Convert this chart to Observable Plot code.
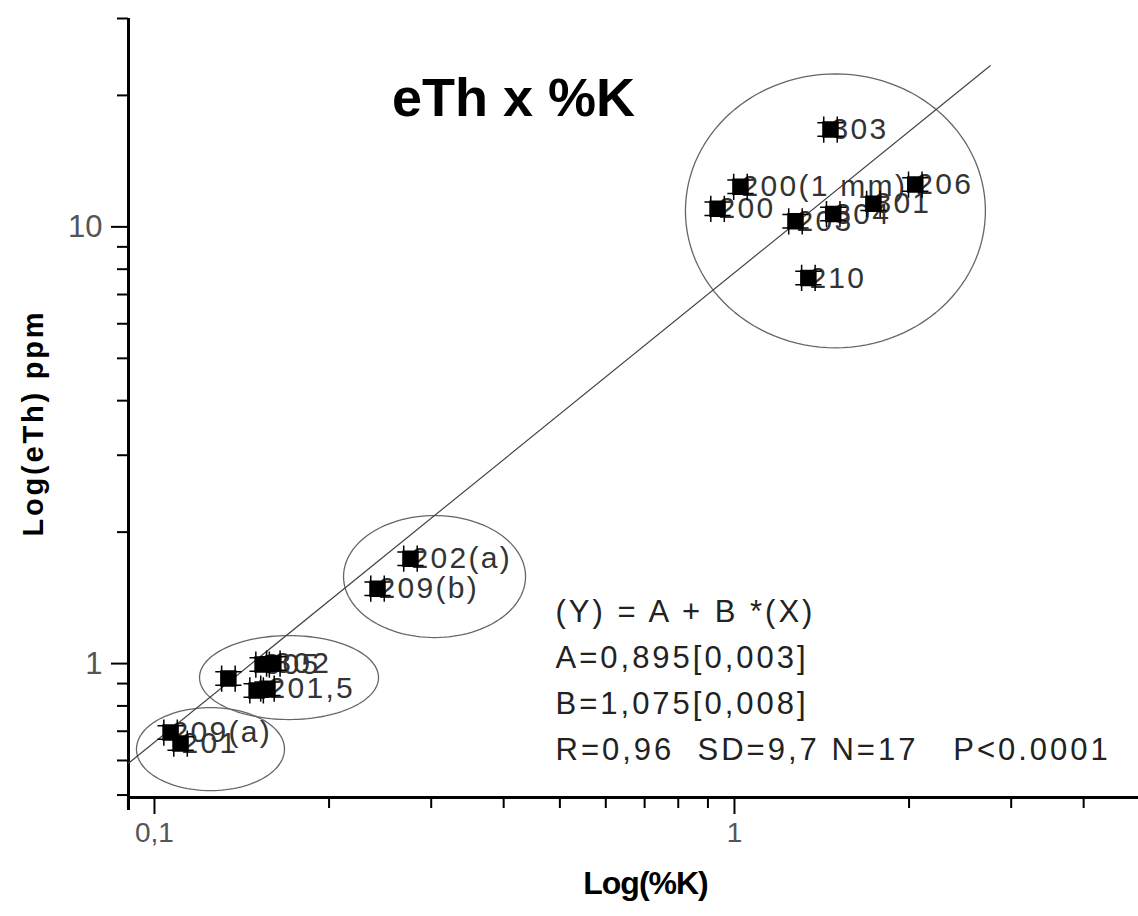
<!DOCTYPE html>
<html><head><meta charset="utf-8">
<script src="https://cdn.jsdelivr.net/npm/d3@7"></script>
<script src="https://cdn.jsdelivr.net/npm/@observablehq/plot@0.6"></script>
<style>
body{margin:0;background:#fff}
svg{font-family:"Liberation Sans",Arial,sans-serif}
.lbl text{letter-spacing:2.3px}
.eq text{letter-spacing:3px}
.ylab text{letter-spacing:2.8px}
.xlab text{letter-spacing:-1px}
g[aria-label="x-axis tick label"] text{font-size:28px;fill:#555}
g[aria-label="y-axis tick label"] text{font-size:31px;fill:#555}
</style></head><body><div id="chart"></div>
<script>
// ---- data ----
const sampleLabels = ["303","200(1 mm)","206","200","203","304","301","210","202(a)","209(b)","","305","302","","201,5","209(a)","201"];
const potassium = [1.464,1.024,2.05,0.935,1.274,1.48,1.736,1.341,0.2763,0.2424,0.1341,0.1536,0.1603,0.150,0.1566,0.1066,0.1109];
const thorium = [16.7,12.35,12.5,11.0,10.3,10.7,11.29,7.64,1.739,1.484,0.924,0.995,1.0,0.868,0.876,0.695,0.656];

// group ellipses (centre K, centre eTh, half-widths in decades)
const ellipseK = [1.493, 0.304, 0.1706, 0.1249];
const ellipseTh = [10.88, 1.582, 0.929, 0.637];
const ellipseRxDec = [0.2586, 0.1569, 0.1543, 0.1276];
const ellipseRyDec = [0.3135, 0.1396, 0.0961, 0.095];

// fit: log(Y) = A + B log(X)
const fitA = 0.895, fitB = 1.075;
const fitRange = [0.0902, 2.76];
const eqLines = ["(Y) = A + B *(X)", "A=0,895[0,003]", "B=1,075[0,008]", "R=0,96  SD=9,7 N=17   P<0.0001"];

const xMajor = [0.1, 1];
const xMinor = [0.09,0.2,0.3,0.4,0.5,0.6,0.7,0.8,0.9,2,3,4];
const yMajor = [1, 10];
const yMinor = [0.5,0.6,0.7,0.8,0.9,2,3,4,5,6,7,8,9,20,30];
const xDomain = [0.0902, 4.973];
const yDomain = [0.4936, 30];

// ---- derived tables ----
const points = sampleLabels.map((t, i) => ({label: t, K: potassium[i], eTh: thorium[i]}));
const ellRows = [];
ellipseK.forEach((cx, i) => {
  for (let k = 0; k <= 120; k++) {
    const a = 2 * Math.PI * k / 120;
    ellRows.push({id: i, K: cx * Math.pow(10, ellipseRxDec[i] * Math.cos(a)), eTh: ellipseTh[i] * Math.pow(10, ellipseRyDec[i] * Math.sin(a))});
  }
});
const fitRows = fitRange.map(x => ({K: x, eTh: Math.pow(10, fitA + fitB * Math.log10(x))}));

const hashSymbol = {
  draw(ctx, size) {
    const r = Math.sqrt(size / Math.PI);
    ctx.moveTo(-r, -r); ctx.lineTo(r, -r); ctx.lineTo(r, r); ctx.lineTo(-r, r); ctx.closePath();
    const o = r * 0.9, L = r * 1.75;
    ctx.moveTo(-o, -L); ctx.lineTo(-o, L);
    ctx.moveTo(o, -L); ctx.lineTo(o, L);
    ctx.moveTo(-L, -o); ctx.lineTo(L, -o);
    ctx.moveTo(-L, o); ctx.lineTo(L, o);
  }
};
const fmt = d => String(d).replace(".", ",");
const noLabel = () => "";

const chart = Plot.plot({
  width: 1138, height: 916,
  marginLeft: 128, marginRight: 0, marginTop: 18, marginBottom: 119,
  style: {background: "white", fontFamily: '"Liberation Sans", Arial, sans-serif'},
  x: {type: "log", domain: xDomain},
  y: {type: "log", domain: yDomain},
  marks: [
    Plot.axisX(xMinor, {tickSize: 11, tickFormat: noLabel, strokeWidth: 2, label: null}),
    Plot.axisX(xMajor, {tickSize: 17, tickPadding: 8, tickFormat: fmt, strokeWidth: 2, label: null}),
    Plot.axisY(yMinor, {tickSize: 11, tickFormat: noLabel, strokeWidth: 2, label: null}),
    Plot.axisY(yMajor, {tickSize: 17, tickPadding: 9, tickFormat: fmt, strokeWidth: 2, label: null}),
    Plot.ruleX([xDomain[0]], {strokeWidth: 3, insetBottom: -13}),
    Plot.ruleY([yDomain[0]], {strokeWidth: 3}),
    Plot.line(ellRows, {x: "K", y: "eTh", z: "id", stroke: "#666", strokeWidth: 1.3}),
    Plot.line(fitRows, {x: "K", y: "eTh", stroke: "#444", strokeWidth: 1.2}),
    Plot.text(points, {x: "K", y: "eTh", text: "label", textAnchor: "start", dx: 1, fontSize: 30, fill: "#333", className: "lbl"}),
    Plot.dot(points, {x: "K", y: "eTh", symbol: hashSymbol, r: 7.5, fill: "black", stroke: "black", strokeWidth: 1.5}),
    Plot.text(["eTh x %K"], {frameAnchor: "top", dx: -120, dy: 80, lineAnchor: "middle", fontSize: 54, fontWeight: "bold", fill: "black"}),
    Plot.text([eqLines.join("\n")], {frameAnchor: "top-left", dx: 427, dy: 571, lineAnchor: "top", textAnchor: "start", lineHeight: 1.48, fontSize: 31, fill: "#222", className: "eq"}),
    Plot.text(["Log(eTh) ppm"], {frameAnchor: "left", rotate: -90, textAnchor: "middle", dx: -95, dy: 15, fontSize: 29, fontWeight: "bold", fill: "black", className: "ylab"}),
    Plot.text(["Log(%K)"], {frameAnchor: "bottom", dx: 12, dy: 96, fontSize: 32, fontWeight: "bold", fill: "black", className: "xlab"})
  ]
});
document.getElementById("chart").appendChild(chart);
</script></body></html>
